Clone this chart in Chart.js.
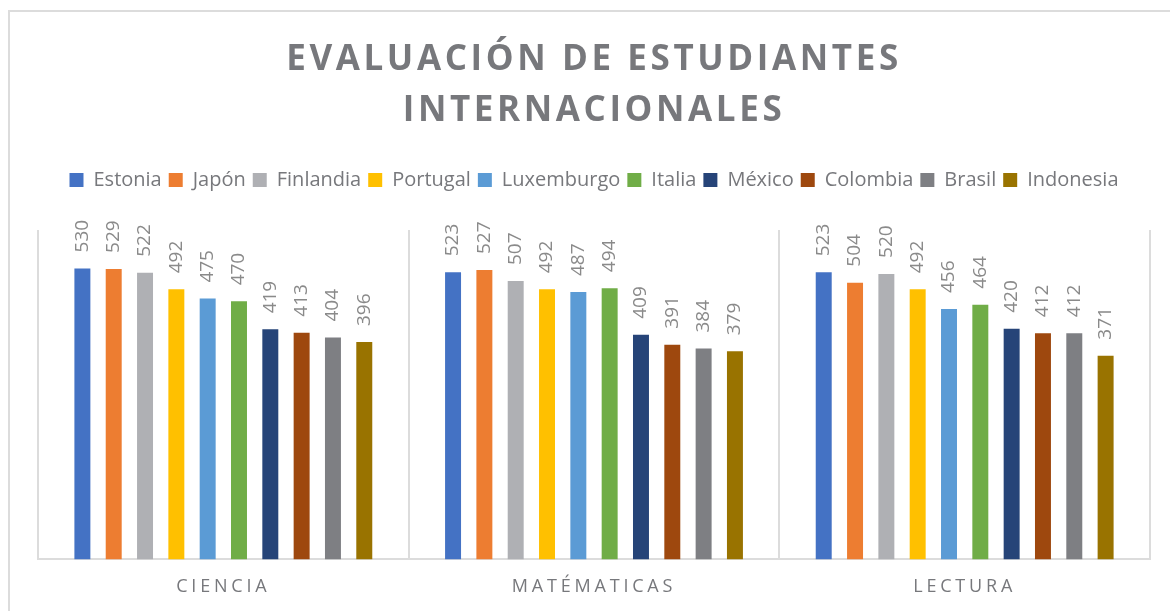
<!DOCTYPE html>
<html>
<head>
<meta charset="utf-8">
<script src="https://cdn.jsdelivr.net/npm/chart.js@4.4.1/dist/chart.umd.min.js"></script>
<style>
  html, body { margin: 0; padding: 0; background: #fff; overflow: hidden; }
  #frame {
    position: absolute; left: 8px; top: 10px; width: 1200px; height: 640px;
    border-left: 2px solid #dcdcdc; border-top: 2px solid #dcdcdc;
  }
  #wrap { position: absolute; left: 0; top: 0; width: 1170px; height: 615px; }
</style>
</head>
<body>
<div id="frame"></div>
<div id="wrap"><canvas id="chart"></canvas></div>
<script>
// data
const categories = ["CIENCIA", "MATÉMATICAS", "LECTURA"];
const countries = ["Estonia", "Japón", "Finlandia", "Portugal", "Luxemburgo", "Italia", "México", "Colombia", "Brasil", "Indonesia"];
const estonia    = [530, 523, 523];
const japon      = [529, 527, 504];
const finlandia  = [522, 507, 520];
const portugal   = [492, 492, 492];
const luxemburgo = [475, 487, 456];
const italia     = [470, 494, 464];
const mexico     = [419, 409, 420];
const colombia   = [413, 391, 412];
const brasil     = [404, 384, 412];
const indonesia  = [396, 379, 371];
const seriesValues = [estonia, japon, finlandia, portugal, luxemburgo, italia, mexico, colombia, brasil, indonesia];
const colors = ["#4472C4", "#ED7D31", "#AFB0B4", "#FFC000", "#5B9BD5", "#70AD47", "#264478", "#9E480E", "#7E7F83", "#997300"];

const FONT = "'Open Sans', sans-serif";
const GRAY = "#77787c";

// wraps a draw method so its text gets letter spacing
function withSpacing(obj, fn, spacing) {
    if (!obj || obj["_spaced_" + fn]) return;
    const orig = obj[fn];
    obj[fn] = function (...args) {
        const ctx = this.ctx;
        ctx.save();
        ctx.letterSpacing = spacing;
        orig.apply(this, args);
        ctx.restore();
    };
    obj["_spaced_" + fn] = true;
}

const spacedText = {
    id: "spacedText",
    beforeLayout(chart) {
        // extra room between legend and plot
        const lg = chart.legend;
        if (lg && !lg._extraFit) {
            const fit = lg.fit;
            lg.fit = function () {
                fit.call(this);
                this.height += 30;
            };
            lg._extraFit = true;
        }
    },
    afterUpdate(chart) {
        withSpacing(chart.titleBlock, "draw", "3.6px");
        withSpacing(chart.scales.x, "drawLabels", "3.8px");
    },
};

// rotated value labels above each bar
const barLabels = {
    id: "barLabels",
    afterDatasetsDraw(chart) {
        const ctx = chart.ctx;
        ctx.save();
        ctx.font = "19px " + FONT;
        ctx.fillStyle = "#8a8a8a";
        ctx.textAlign = "left";
        ctx.textBaseline = "middle";
        chart.data.datasets.forEach((ds, i) => {
            const meta = chart.getDatasetMeta(i);
            meta.data.forEach((bar, j) => {
                ctx.save();
                ctx.translate(bar.x, bar.y - 16);
                ctx.rotate(-Math.PI / 2);
                ctx.fillText(String(ds.data[j]), 0, 0);
                ctx.restore();
            });
        });
        ctx.restore();
    },
};

new Chart(document.getElementById("chart"), {
    type: "bar",
    data: {
        labels: categories,
        datasets: countries.map((name, i) => ({
            label: name,
            data: seriesValues[i],
            backgroundColor: colors[i],
            borderWidth: 0,
            categoryPercentage: 0.845,
            barPercentage: 0.51,
        })),
    },
    options: {
        responsive: true,
        maintainAspectRatio: false,
        animation: false,
        layout: { padding: { left: 38, right: 20, top: 0, bottom: 0 } },
        plugins: {
            title: {
                display: true,
                text: ["EVALUACIÓN DE ESTUDIANTES", "INTERNACIONALES"],
                color: GRAY,
                font: { family: FONT, size: 35, weight: "bold", lineHeight: 1.457 },
                padding: { top: 35, bottom: 26 },
            },
            legend: {
                position: "top",
                labels: {
                    color: GRAY,
                    font: { family: FONT, size: 20 },
                    boxWidth: 14,
                    boxHeight: 14,
                    padding: 7,
                },
            },
            tooltip: { enabled: false },
        },
        scales: {
            x: {
                grid: { display: true, offset: true, color: "#dcdcdc", lineWidth: 2, drawTicks: false },
                border: { display: true, color: "#dcdcdc", width: 2 },
                ticks: { color: GRAY, font: { family: FONT, size: 18 }, padding: 17 },
            },
            y: {
                display: false,
                min: 0,
                max: 600,
            },
        },
    },
    plugins: [spacedText, barLabels],
});
</script>
</body>
</html>
